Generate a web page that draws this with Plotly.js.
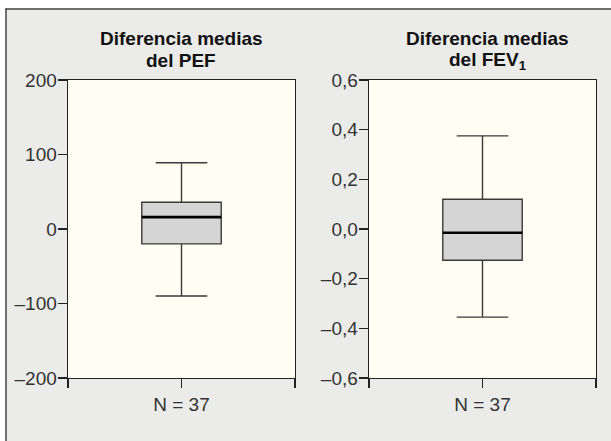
<!DOCTYPE html>
<html>
<head>
<meta charset="utf-8">
<script src="https://cdn.plot.ly/plotly-3.0.1.min.js"></script>
<style>html,body{margin:0;padding:0;background:#fff;}#chart{width:611px;height:441px;}</style>
</head>
<body>
<div id="chart"></div>
<script>
// ---- Data ----
const categoryLabel = 'N = 37';
const pefStats = {lower: -90, q1: -20, median: 16, q3: 36, upper: 89};
const fevStats = {lower: -0.355, q1: -0.126, median: -0.015, q3: 0.12, upper: 0.375};
const pefTickVals = [-200, -100, 0, 100, 200];
const pefTickText = ['\u2013200', '\u2013100', '0', '100', '200'];
const fevTickVals = [-0.6, -0.4, -0.2, 0, 0.2, 0.4, 0.6];
const fevTickText = ['\u20130,6', '\u20130,4', '\u20130,2', '0,0', '0,2', '0,4', '0,6'];
const titlePEF = ['Diferencia medias', 'del PEF'];
const titleFEV = ['Diferencia medias', 'del FEV<sub>1</sub>'];

// ---- Styling ----
const W = 611, H = 441;
const px = v => v / W;
const py = v => 1 - v / H;
const boxX = 1, boxW = 0.7;
const fontFam = '"Liberation Sans", Arial, Helvetica, sans-serif';

function boxTrace(s, xa, ya) {
  return {
    type: 'box', x: [boxX], xaxis: xa, yaxis: ya,
    q1: [s.q1], median: [s.median], q3: [s.q3],
    lowerfence: [s.lower], upperfence: [s.upper],
    width: boxW, whiskerwidth: 0.65,
    fillcolor: '#d5d5d5', line: {color: '#3a3a3a', width: 1.4},
    boxpoints: false, hoverinfo: 'skip', showlegend: false
  };
}
function medianTrace(s, xa, ya) {
  return {
    type: 'scatter', mode: 'lines', xaxis: xa, yaxis: ya,
    x: [boxX - boxW / 2, boxX + boxW / 2], y: [s.median, s.median],
    line: {color: '#000', width: 2.6}, hoverinfo: 'skip', showlegend: false
  };
}

const data = [
  boxTrace(pefStats, 'x', 'y'), medianTrace(pefStats, 'x', 'y'),
  boxTrace(fevStats, 'x2', 'y2'), medianTrace(fevStats, 'x2', 'y2')
];

function xAxis(domain, anchor) {
  return {
    domain: domain, anchor: anchor, range: [0, 2], fixedrange: true,
    tickmode: 'array', tickvals: [boxX], ticktext: [categoryLabel],
    ticks: 'outside', ticklen: 9, tickwidth: 1.4, tickcolor: '#222',
    minor: {tickmode: 'linear', tick0: 0, dtick: 1, ticks: 'outside', ticklen: 9, tickwidth: 1.4, tickcolor: '#222', showgrid: false},
    showline: true, linecolor: '#222', linewidth: 1.4, mirror: true,
    showgrid: false, zeroline: false,
    tickfont: {family: fontFam, size: 19, color: '#333'}
  };
}
function yAxis(domain, anchor, range, vals, text) {
  return {
    domain: domain, anchor: anchor, range: range, fixedrange: true,
    tickmode: 'array', tickvals: vals, ticktext: text,
    ticks: 'outside', ticklen: 9, tickwidth: 1.4, tickcolor: '#222',
    ticklabelstandoff: -3,
    showline: true, linecolor: '#222', linewidth: 1.4, mirror: true,
    showgrid: false, zeroline: false,
    tickfont: {family: fontFam, size: 19, color: '#333'}
  };
}

const yDom = [py(378), py(80)];
function titleAnn(text, cx, cy) {
  return {
    text: text, xref: 'paper', yref: 'paper', x: px(cx), y: py(cy),
    xanchor: 'center', yanchor: 'middle', showarrow: false,
    font: {family: fontFam, size: 19, color: '#111', weight: 'bold'}
  };
}

const layout = {
  width: W, height: H,
  margin: {l: 0, r: 0, t: 0, b: 0},
  paper_bgcolor: '#ebebea', plot_bgcolor: '#fefef2',
  showlegend: false,
  xaxis: xAxis([px(68), px(295)], 'y'),
  yaxis: yAxis(yDom, 'x', [-200, 200], pefTickVals, pefTickText),
  xaxis2: xAxis([px(369), px(596)], 'y2'),
  yaxis2: yAxis(yDom, 'x2', [-0.6, 0.6], fevTickVals, fevTickText),
  annotations: [
    titleAnn(titlePEF[0], 181, 39),
    titleAnn(titlePEF[1], 181, 61),
    titleAnn(titleFEV[0], 487.5, 39),
    titleAnn(titleFEV[1], 487.5, 61)
  ],
  shapes: [
    {type: 'rect', xref: 'paper', yref: 'paper', x0: 0, x1: 1, y0: py(8.5), y1: 1, fillcolor: '#fff', line: {width: 0}},
    {type: 'rect', xref: 'paper', yref: 'paper', x0: 0, x1: px(5.5), y0: 0, y1: 1, fillcolor: '#fff', line: {width: 0}},
    {type: 'line', xref: 'paper', yref: 'paper', x0: px(6), x1: px(6), y0: 0, y1: py(8.5), line: {color: '#444', width: 1.5}},
    {type: 'line', xref: 'paper', yref: 'paper', x0: px(5.3), x1: 1, y0: py(9), y1: py(9), line: {color: '#444', width: 1.5}}
  ]
};

Plotly.newPlot('chart', data, layout, {staticPlot: true, displayModeBar: false});
</script>
</body>
</html>
